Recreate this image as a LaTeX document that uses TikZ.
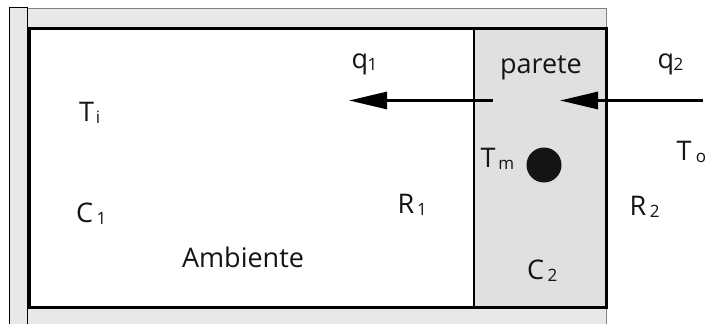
\documentclass[tikz,border=0pt]{standalone}
\usepackage{fontspec}
\setmainfont{Open Sans}
\usetikzlibrary{arrows.meta}
\definecolor{bandgray}{HTML}{E8E8E8}
\definecolor{wallgray}{HTML}{E0E0E0}
\definecolor{edgegray}{HTML}{808080}
\definecolor{ink}{HTML}{141414}
\newcommand{\subx}[2]{\hspace{#1}\raisebox{-2.5pt}{\fontsize{17}{17}\selectfont #2}}
\tikzset{
  lab/.style={anchor=base west, inner sep=0pt, outer sep=0pt, text=ink, font=\fontsize{27}{27}\selectfont},
  band/.style={fill=bandgray, draw=edgegray, line width=0.8pt},
  boxline/.style={draw=black, line width=3pt},
  flow/.style={draw=black, line width=3pt, -{Triangle[length=38pt,width=17pt]}},
}
\begin{document}
\begin{tikzpicture}[x=1pt,y=-1pt]
\useasboundingbox (0,0) rectangle (705,324);
\fill[white] (0,0) rectangle (705,324);
% hatched surroundings
\path[band] (27,8) rectangle (606,28);
\path[band] (27,307) rectangle (606,330);
\path[band, draw=black] (9,7) rectangle (27,330);
% wall
\fill[wallgray] (474,28.5) rectangle (606,307);
\draw[line width=2pt] (474,28.5) -- (474,307);
% main box
\draw[boxline] (29.5,28.5) rectangle (606,307);
% arrows
\coordinate (q1s) at (493,100.5);
\coordinate (q1e) at (349,100.5);
\coordinate (q2s) at (703,100.5);
\coordinate (q2e) at (560,100.5);
\draw[flow] (q1s) -- (q1e);
\draw[flow] (q2s) -- (q2e);
% node
\node[circle, fill=ink, minimum size=35pt, inner sep=0pt] (Tmdot) at (544,165) {};
% labels
\node[lab] (q1) at (351.5,68) {q\subx{-0.5pt}{1}};
\node[lab] (q2) at (657.5,68) {q\subx{-0.5pt}{2}};
\node[lab] (parete) at (500,73.5) {parete};
\node[lab] (Ti) at (79,121) {T\subx{2pt}{i}};
\node[lab] (C1) at (76,222) {C\subx{3.5pt}{1}};
\node[lab] (amb) at (182,267) {Ambiente};
\node[lab] (R1) at (397.5,213) {R\subx{3pt}{1}};
\node[lab] (Tm) at (480.5,167) {T\subx{3pt}{m}};
\node[lab] (To) at (676.5,160) {T\subx{4.5pt}{o}};
\node[lab] (R2) at (629.7,215) {R\subx{3.5pt}{2}};
\node[lab] (C2) at (527,279) {C\subx{3.5pt}{2}};
\end{tikzpicture}
\end{document}
